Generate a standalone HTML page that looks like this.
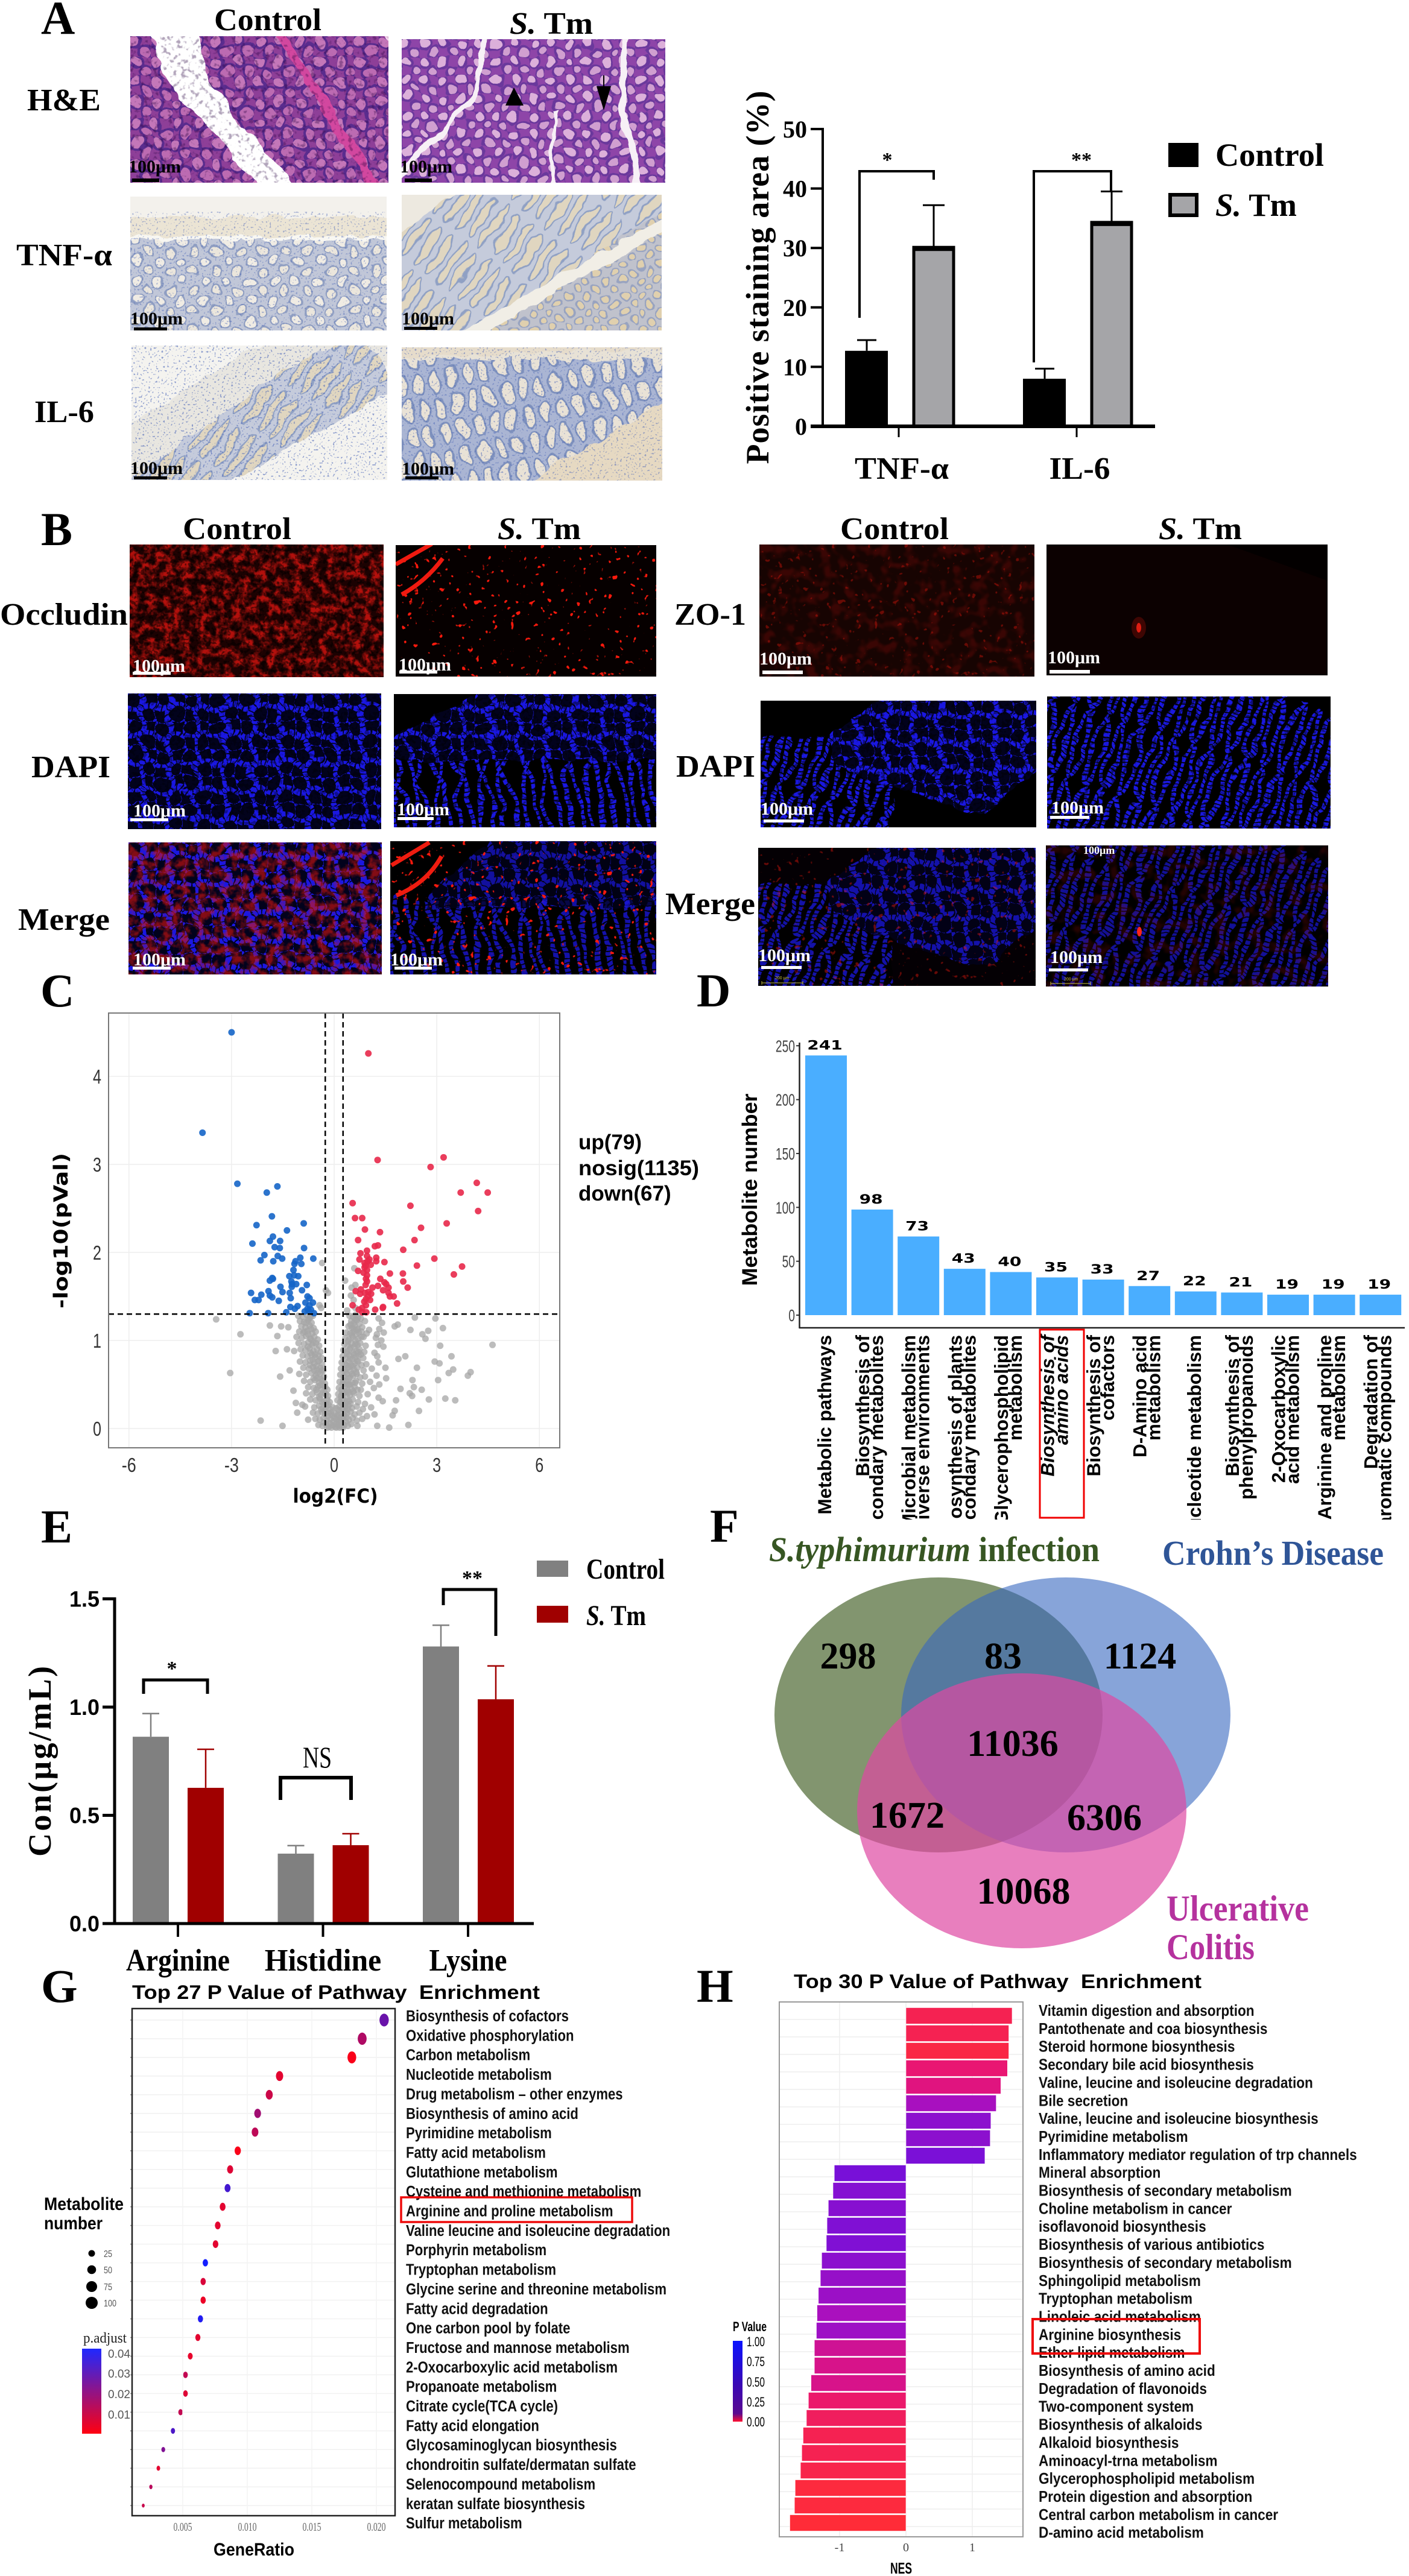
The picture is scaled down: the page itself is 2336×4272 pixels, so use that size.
<!DOCTYPE html>
<html lang="en">
<head>
<meta charset="utf-8">
<title>Multi-panel figure</title>
<style>
html,body{margin:0;padding:0;background:#fff}
svg#figure{display:block}
text{fill:#000}
.sb{font-family:"Liberation Serif",serif;font-weight:700}
.ab{font-family:"Liberation Sans",sans-serif;font-weight:700}
.ar{font-family:"Liberation Sans",sans-serif}
.db{font-family:"DejaVu Sans",sans-serif;font-weight:700}
.sr{font-family:"Liberation Serif",serif}
</style>
</head>
<body>
<svg id="figure" width="2336" height="4272" viewBox="0 0 2336 4272">
<defs>
<filter id="warp" color-interpolation-filters="sRGB"><feTurbulence type="fractalNoise" baseFrequency="0.025" numOctaves="3" seed="4" result="n"/><feDisplacementMap in="SourceGraphic" in2="n" scale="20" xChannelSelector="R" yChannelSelector="G"/></filter>
<filter id="speck-dark" color-interpolation-filters="sRGB" x="0" y="0" width="100%" height="100%"><feTurbulence type="fractalNoise" baseFrequency="0.13" numOctaves="2" seed="7"/><feColorMatrix values="0 0 0 0 0.15 0 0 0 0 0 0 0 0 0 0.25 6 0 0 0 -3.3"/></filter>
<filter id="speck-black" color-interpolation-filters="sRGB" x="0" y="0" width="100%" height="100%"><feTurbulence type="fractalNoise" baseFrequency="0.16" numOctaves="2" seed="11"/><feColorMatrix values="0 0 0 0 0 0 0 0 0 0 0 0 0 0 0 9 0 0 0 -4.6"/></filter>
<filter id="speck-red-soft" color-interpolation-filters="sRGB" x="0" y="0" width="100%" height="100%"><feTurbulence type="fractalNoise" baseFrequency="0.07" numOctaves="3" seed="3"/><feColorMatrix values="0 0 0 0 0.85 0 0 0 0 0.08 0 0 0 0 0.06 3.2 0 0 0 -1.25"/></filter>
<filter id="speck-red-fine" color-interpolation-filters="sRGB" x="0" y="0" width="100%" height="100%"><feTurbulence type="fractalNoise" baseFrequency="0.1" numOctaves="2" seed="9"/><feColorMatrix values="0 0 0 0 1 0 0 0 0 0.1 0 0 0 0 0.05 16 0 0 0 -11"/></filter>
<filter id="speck-red-faint" color-interpolation-filters="sRGB" x="0" y="0" width="100%" height="100%"><feTurbulence type="fractalNoise" baseFrequency="0.05" numOctaves="2" seed="5"/><feColorMatrix values="0 0 0 0 0.55 0 0 0 0 0.05 0 0 0 0 0.04 4 0 0 0 -1.9"/></filter>
<filter id="speck-nuclei" color-interpolation-filters="sRGB" x="0" y="0" width="100%" height="100%"><feTurbulence type="fractalNoise" baseFrequency="0.32" numOctaves="1" seed="2"/><feColorMatrix values="0 0 0 0 0.3 0 0 0 0 0.4 0 0 0 0 0.72 12 0 0 0 -7.4"/></filter>
<pattern id="p-he" patternUnits="userSpaceOnUse" width="34" height="34"><rect width="34" height="34" fill="#8e3f98"/><circle cx="8.5" cy="8.5" r="10.5" fill="#c477b9" stroke="#5a2c8e" stroke-width="4"/><circle cx="25.5" cy="25.5" r="10.5" fill="#bc6bb2" stroke="#5a2c8e" stroke-width="4"/></pattern>
<pattern id="p-he-pale" patternUnits="userSpaceOnUse" width="30" height="30"><rect width="30" height="30" fill="#8e45a8"/><circle cx="7.5" cy="7.5" r="9" fill="#dcb0da" stroke="#6a389c" stroke-width="3.5"/><circle cx="22.5" cy="22.5" r="8.5" fill="#d09fd0" stroke="#6a389c" stroke-width="3.5"/></pattern>
<pattern id="p-ihc" patternUnits="userSpaceOnUse" width="38" height="33"><rect width="38" height="33" fill="#c1c7d8"/><circle cx="9.5" cy="8.2" r="8.5" fill="#f0ece4" stroke="#8f9ec2" stroke-width="2.5"/><circle cx="28.5" cy="24.7" r="8.5" fill="#ebe6dc" stroke="#8f9ec2" stroke-width="2.5"/></pattern>
<pattern id="p-ihc-tan" patternUnits="userSpaceOnUse" width="30" height="27"><rect width="30" height="27" fill="#c0c2cc"/><circle cx="7.5" cy="6.8" r="6.8" fill="#e0d0ae" stroke="#98a3c0" stroke-width="2.5"/><circle cx="22.5" cy="20.2" r="6.8" fill="#e0d0ae" stroke="#98a3c0" stroke-width="2.5"/></pattern>
<pattern id="p-ihc-long" patternUnits="userSpaceOnUse" width="24" height="90" patternTransform="rotate(35)"><rect width="24" height="90" fill="#c5cbdb"/><ellipse cx="12" cy="45" rx="7.5" ry="40" fill="#e0d6c0" stroke="#8fa0c4" stroke-width="2.5"/></pattern>
<pattern id="p-ihc-blue" patternUnits="userSpaceOnUse" width="28" height="44" patternTransform="rotate(-12)"><rect width="28" height="44" fill="#aab5d3"/><ellipse cx="14" cy="22" rx="9.5" ry="18" fill="#e9e2d6" stroke="#7d90bd" stroke-width="3"/></pattern>
<pattern id="p-net" patternUnits="userSpaceOnUse" width="46" height="46"><rect width="46" height="46" fill="#02021c"/><circle cx="11.5" cy="11.5" r="15" fill="none" stroke="#1a17e2" stroke-width="8" stroke-dasharray="7 2"/><circle cx="34.5" cy="34.5" r="15" fill="none" stroke="#1a17e2" stroke-width="8" stroke-dasharray="7 2"/></pattern>
<pattern id="p-stripe" patternUnits="userSpaceOnUse" width="36" height="150" patternTransform="rotate(-8)"><rect width="36" height="150" fill="#000"/><ellipse cx="18" cy="75" rx="11" ry="72" fill="none" stroke="#1a17e2" stroke-width="7" stroke-dasharray="7 2"/></pattern>
<pattern id="p-stripe-b" patternUnits="userSpaceOnUse" width="30" height="120" patternTransform="rotate(18)"><rect width="30" height="120" fill="#000"/><ellipse cx="15" cy="60" rx="9" ry="56" fill="none" stroke="#1a18e0" stroke-width="7" stroke-dasharray="6 2"/></pattern>
<linearGradient id="g-padjust" x1="0" y1="0" x2="0" y2="1"><stop offset="0" stop-color="#1f28ff"/><stop offset="1" stop-color="#ff0010"/></linearGradient>
<linearGradient id="g-pvalue" x1="0" y1="0" x2="0" y2="1"><stop offset="0" stop-color="#0a12ff"/><stop offset=".55" stop-color="#3a08b4"/><stop offset=".9" stop-color="#5a0a90"/><stop offset="1" stop-color="#ff1030"/></linearGradient>
<clipPath id="clip-d-labels"><rect x="1320" y="2204" width="1016" height="316"/></clipPath>
</defs>
<rect width="2336" height="4272" fill="#fff"/>

<!-- PANEL LETTERS -->
<g class="sb" font-size="78">
<text x="68" y="56">A</text>
<text x="68" y="904">B</text>
<text x="67" y="1669">C</text>
<text x="1155" y="1669">D</text>
<text x="68" y="2558">E</text>
<text x="1177" y="2557">F</text>
<text x="68" y="3320">G</text>
<text x="1155" y="3320">H</text>
</g>

<!-- PANEL A IMAGES -->
<g class="sb" font-size="52">
<text x="355" y="50" textLength="178" lengthAdjust="spacingAndGlyphs">Control</text>
<text x="845" y="56" textLength="138" lengthAdjust="spacingAndGlyphs"><tspan font-style="italic">S.</tspan> Tm</text>
<text x="45" y="183" textLength="122" lengthAdjust="spacingAndGlyphs">H&amp;E</text>
<text x="27" y="440" textLength="159" lengthAdjust="spacingAndGlyphs">TNF-α</text>
<text x="57" y="700" textLength="99" lengthAdjust="spacingAndGlyphs">IL-6</text>
</g>

<svg x="216" y="60" width="428" height="243" viewBox="0 0 428 243">
<g filter="url(#warp)"><rect x="-40" y="-40" width="510" height="330" fill="url(#p-he)"/>
<polygon points="25,-30 105,-30 135,80 285,270 235,270 90,110 55,60" fill="#fff"/>
<line x1="238" y1="-20" x2="410" y2="260" stroke="#d2479f" stroke-width="15"/>
<polygon points="400,-30 470,-30 470,70" fill="#f8d8ee"/></g>
<rect width="428" height="243" filter="url(#speck-dark)" opacity=".35"/>
<text class="sb" font-size="30" x="-3" y="226">100μm</text>
<rect x="3" y="236" width="45" height="6" fill="#000"/>
</svg>
<svg x="666" y="65" width="437" height="238" viewBox="0 0 437 238">
<g filter="url(#warp)"><rect x="-40" y="-40" width="520" height="320" fill="url(#p-he-pale)"/>
<polyline points="145,-25 125,90 70,150 20,195 -15,245" fill="none" stroke="#f7f0f6" stroke-width="10"/>
<polyline points="375,-25 365,120 395,265" fill="none" stroke="#f7f0f6" stroke-width="12"/>
<line x1="258" y1="120" x2="245" y2="265" stroke="#f7f0f6" stroke-width="7"/></g>
<polygon points="186,80 172,110 202,110" fill="#000"/>
<polygon points="323,78 347,78 335,118" fill="#000"/>
<line x1="335" y1="60" x2="335" y2="80" stroke="#000" stroke-width="2"/>
<text class="sb" font-size="30" x="-3" y="221">100μm</text>
<rect x="5" y="231" width="45" height="6" fill="#000"/>
</svg>
<svg x="216" y="326" width="425" height="222" viewBox="0 0 425 222">
<rect width="425" height="222" fill="#f3f1ec"/>
<g filter="url(#warp)"><rect x="-40" y="72" width="510" height="200" fill="url(#p-ihc)"/>
<rect x="-40" y="34" width="510" height="32" fill="#ebe4d4"/><rect x="-40" y="66" width="510" height="6" fill="#f8f7f2"/></g>
<rect y="25" width="425" height="197" filter="url(#speck-nuclei)" opacity=".45"/>
<text class="sb" font-size="30" x="0" y="212">100μm</text>
<rect x="6" y="217" width="55" height="5" fill="#000"/>
</svg>
<svg x="666" y="323" width="431" height="225" viewBox="0 0 431 225">
<rect width="431" height="225" fill="#e6e2d8"/>
<g filter="url(#warp)"><rect x="-40" y="-40" width="510" height="300" fill="url(#p-ihc-tan)"/>
<polygon points="-40,-40 470,-40 470,0 80,260 -40,260" fill="url(#p-ihc-long)"/>
<line x1="70" y1="255" x2="450" y2="40" stroke="#f1eee6" stroke-width="20"/>
<polygon points="-40,-40 140,-40 -40,90" fill="#ede9e0"/></g>
<text class="sb" font-size="30" x="0" y="215">100μm</text>
<rect x="4" y="219" width="55" height="5" fill="#000"/>
</svg>
<svg x="218" y="573" width="424" height="223" viewBox="0 0 424 223">
<rect width="424" height="223" fill="#f4f3ef"/>
<g filter="url(#warp)"><polygon points="-40,150 260,-30 440,-30 440,20 50,260 -40,260" fill="#e8e6e0"/>
<polygon points="0,220 250,40 380,-20 440,70 100,260 -10,260" fill="url(#p-ihc-long)"/></g>
<rect width="424" height="223" filter="url(#speck-nuclei)" opacity=".6"/>
<text class="sb" font-size="30" x="-2" y="213">100μm</text>
<rect x="4" y="217" width="55" height="5" fill="#000"/>
</svg>
<svg x="666" y="576" width="432" height="221" viewBox="0 0 432 221">
<rect width="432" height="221" fill="#e8e2d6"/>
<g filter="url(#warp)"><rect x="-40" y="20" width="510" height="240" fill="url(#p-ihc-blue)"/>
<polygon points="-40,-40 470,-40 470,0 -40,20" fill="#e6dccb"/>
<polygon points="140,265 470,70 470,265" fill="#e6d9c2"/></g>
<rect width="432" height="221" filter="url(#speck-nuclei)" opacity=".5"/>
<text class="sb" font-size="30" x="0" y="211">100μm</text>
<rect x="6" y="214" width="55" height="5" fill="#000"/>
</svg>

<!-- PANEL A CHART -->
<g id="stain-chart"></g>
<g>
<path d="M1425 527V284H1548V298" fill="none" stroke="#000" stroke-width="4"/>
<path d="M1714 601V284H1842V318" fill="none" stroke="#000" stroke-width="4"/>
<text class="sb" font-size="34" x="1471" y="276" text-anchor="middle">*</text>
<text class="sb" font-size="34" x="1793" y="276" text-anchor="middle">**</text>
<text class="sb" font-size="54" transform="translate(1274,460) rotate(-90)" text-anchor="middle" textLength="619" lengthAdjust="spacing">Positive staining area (%)</text>
<rect x="1937" y="237" width="50" height="40" fill="#000"/>
<text class="sb" font-size="54" x="2015" y="275" textLength="180" lengthAdjust="spacingAndGlyphs">Control</text>
<rect x="1940" y="323" width="44" height="34" fill="#a5a5a8" stroke="#000" stroke-width="6"/>
<text class="sb" font-size="54" x="2015" y="358" textLength="135" lengthAdjust="spacingAndGlyphs"><tspan font-style="italic">S.</tspan> Tm</text>
</g>

<!-- PANEL B -->
<g class="sb" font-size="52">
<text x="393" y="894" text-anchor="middle" textLength="180" lengthAdjust="spacingAndGlyphs">Control</text>
<text x="894" y="894" text-anchor="middle" textLength="138" lengthAdjust="spacingAndGlyphs"><tspan font-style="italic">S.</tspan> Tm</text>
<text x="1483" y="894" text-anchor="middle" textLength="180" lengthAdjust="spacingAndGlyphs">Control</text>
<text x="1990" y="894" text-anchor="middle" textLength="138" lengthAdjust="spacingAndGlyphs"><tspan font-style="italic">S.</tspan> Tm</text>
<text x="0" y="1036" textLength="212" lengthAdjust="spacingAndGlyphs">Occludin</text>
<text x="1118" y="1036" textLength="119" lengthAdjust="spacingAndGlyphs">ZO-1</text>
<text x="52" y="1289" textLength="131" lengthAdjust="spacingAndGlyphs">DAPI</text>
<text x="1121" y="1288" textLength="131" lengthAdjust="spacingAndGlyphs">DAPI</text>
<text x="30" y="1542" textLength="152" lengthAdjust="spacingAndGlyphs">Merge</text>
<text x="1103" y="1516" textLength="149" lengthAdjust="spacingAndGlyphs">Merge</text>
</g>

<svg x="215" y="903" width="421" height="220" viewBox="0 0 421 220">
<rect width="421" height="220" fill="#1c0202"/>
<rect width="421" height="220" filter="url(#speck-red-soft)" opacity=".8"/>
<rect width="421" height="220" filter="url(#speck-black)" opacity=".5"/>
<text class="sb" font-size="30" x="5" y="211" style="fill:#fff">100μm</text>
<rect x="5" y="211" width="63" height="5" fill="#fff"/>
</svg>
<svg x="656" y="904" width="432" height="218" viewBox="0 0 432 218">
<rect width="432" height="218" fill="#060000"/>
<rect width="432" height="218" filter="url(#speck-red-fine)"/>
<path d="M0 32 L60 -2 M10 82 Q50 60 78 22" fill="none" stroke="#f01a10" stroke-width="7"/>
<text class="sb" font-size="30" x="5" y="208" style="fill:#fff">100μm</text>
<rect x="6" y="208" width="63" height="5" fill="#fff"/>
</svg>
<svg x="1259" y="903" width="456" height="219" viewBox="0 0 456 219">
<rect width="456" height="219" fill="#170402"/>
<rect width="456" height="219" filter="url(#speck-red-faint)" opacity=".3"/>
<rect width="456" height="219" filter="url(#speck-red-fine)" opacity=".35"/>
<text class="sb" font-size="30" x="0" y="199" style="fill:#fff">100μm</text>
<rect x="5" y="209" width="67" height="6" fill="#fff"/>
</svg>
<svg x="1735" y="903" width="466" height="217" viewBox="0 0 466 217">
<rect width="466" height="217" fill="#0c0101"/>
<polygon points="300,0 466,0 466,60" fill="#030000"/>
<ellipse cx="153" cy="138" rx="4" ry="8" fill="#ff2418"/>
<ellipse cx="153" cy="138" rx="12" ry="18" fill="#a01008" opacity=".35"/>
<text class="sb" font-size="30" x="2" y="197" style="fill:#fff">100μm</text>
<rect x="5" y="208" width="67" height="6" fill="#fff"/>
</svg>
<svg x="212" y="1150" width="420" height="225" viewBox="0 0 420 225">
<g filter="url(#warp)"><rect x="-40" y="-40" width="500" height="310" fill="url(#p-net)"/></g>
<rect width="420" height="225" filter="url(#speck-black)" opacity=".35"/>
<text class="sb" font-size="30" x="9" y="204" style="fill:#fff">100μm</text>
<rect x="4" y="207" width="63" height="5" fill="#fff"/>
</svg>
<svg x="653" y="1151" width="435" height="221" viewBox="0 0 435 221">
<rect width="435" height="221" fill="#000"/>
<g filter="url(#warp)"><rect x="-40" y="90" width="520" height="170" fill="url(#p-stripe)"/>
<polygon points="-40,90 200,-30 480,-30 480,110 -40,110" fill="url(#p-net)"/></g>
<rect width="435" height="221" filter="url(#speck-black)" opacity=".45"/>
<text class="sb" font-size="30" x="5" y="201" style="fill:#fff">100μm</text>
<rect x="6" y="204" width="60" height="5" fill="#fff"/>
</svg>
<svg x="1261" y="1162" width="457" height="210" viewBox="0 0 457 210">
<rect width="457" height="210" fill="#000"/>
<g filter="url(#warp)"><rect x="-40" y="60" width="260" height="190" fill="url(#p-stripe-b)"/>
<polygon points="110,60 240,-30 480,-30 480,100 370,190 240,150 130,110" fill="url(#p-net)"/></g>
<rect width="457" height="210" filter="url(#speck-black)" opacity=".45"/>
<text class="sb" font-size="30" x="0" y="189" style="fill:#fff">100μm</text>
<rect x="5" y="197" width="67" height="5" fill="#fff"/>
</svg>
<svg x="1736" y="1155" width="470" height="219" viewBox="0 0 470 219">
<rect width="470" height="219" fill="#000"/>
<g filter="url(#warp)"><polygon points="-40,-30 360,-30 500,50 500,260 -40,260" fill="url(#p-stripe-b)"/></g>
<rect width="470" height="219" filter="url(#speck-black)" opacity=".45"/>
<text class="sb" font-size="30" x="7" y="194" style="fill:#fff">100μm</text>
<rect x="5" y="198" width="65" height="5" fill="#fff"/>
</svg>
<svg x="213" y="1397" width="420" height="219" viewBox="0 0 420 219">
<g filter="url(#warp)"><rect x="-40" y="-40" width="500" height="300" fill="url(#p-net)"/></g>
<rect width="420" height="219" filter="url(#speck-red-soft)" opacity=".6"/>
<text class="sb" font-size="30" x="8" y="204" style="fill:#fff">100μm</text>
<rect x="7" y="206" width="63" height="5" fill="#fff"/>
</svg>
<svg x="647" y="1395" width="441" height="221" viewBox="0 0 441 221">
<rect width="441" height="221" fill="#000"/>
<g filter="url(#warp)"><rect x="-40" y="95" width="520" height="170" fill="url(#p-stripe)" opacity=".75"/>
<polygon points="60,90 200,-30 480,-30 480,110 60,110" fill="url(#p-net)" opacity=".7"/></g>
<rect width="441" height="221" filter="url(#speck-red-fine)"/>
<path d="M2 40 L65 2 M10 90 Q60 70 85 25" fill="none" stroke="#ef1c10" stroke-width="7"/>
<text class="sb" font-size="30" x="0" y="206" style="fill:#fff">100μm</text>
<rect x="7" y="208" width="62" height="5" fill="#fff"/>
</svg>
<svg x="1257" y="1406" width="460" height="229" viewBox="0 0 460 229">
<rect width="460" height="229" fill="#040004"/>
<g filter="url(#warp)" opacity=".75"><rect x="-40" y="60" width="260" height="210" fill="url(#p-stripe-b)"/>
<polygon points="110,60 240,-30 490,-30 490,110 380,200 240,160 130,110" fill="url(#p-net)"/></g>
<rect width="460" height="229" filter="url(#speck-red-fine)" opacity=".4"/>
<text class="sb" font-size="30" x="0" y="188" style="fill:#fff">100μm</text>
<rect x="5" y="196" width="67" height="5" fill="#fff"/>
<text class="ar" font-size="7" x="28" y="218" style="fill:#c8c040">200 μm</text>
<path d="M6 224H74M6 221V227M74 221V227" stroke="#c8c040" stroke-width="1" fill="none"/>
</svg>
<svg x="1734" y="1402" width="468" height="234" viewBox="0 0 468 234">
<rect width="468" height="234" fill="#030002"/>
<g filter="url(#warp)" opacity=".68"><polygon points="-40,-30 360,-30 500,50 500,270 -40,270" fill="url(#p-stripe-b)"/></g>
<rect width="468" height="234" filter="url(#speck-red-faint)" opacity=".25"/>
<ellipse cx="155" cy="143" rx="4" ry="8" fill="#ff2418"/>
<text class="sb" font-size="18" x="62" y="14" style="fill:#fff">100μm</text>
<text class="sb" font-size="30" x="7" y="195" style="fill:#fff">100μm</text>
<rect x="5" y="204" width="65" height="5" fill="#fff"/>
<path d="M8 229H74M8 226V232M74 226V232" stroke="#c8c040" stroke-width="1" fill="none"/>
<text class="ar" font-size="7" x="30" y="224" style="fill:#c8c040">200 μm</text>
</svg>

<!-- PANEL C -->
<g id="volcano-chart"></g>
<g>
<text class="db" font-size="32" transform="translate(112,2041) rotate(-90)" text-anchor="middle" textLength="258" lengthAdjust="spacingAndGlyphs">-log10(pVal)</text>
<text class="db" font-size="32" x="556" y="2492" text-anchor="middle" textLength="141" lengthAdjust="spacingAndGlyphs">log2(FC)</text>
<text class="ab" font-size="35" x="959" y="1906">up(79)</text>
<text class="ab" font-size="35" x="959" y="1949" textLength="200" lengthAdjust="spacingAndGlyphs">nosig(1135)</text>
<text class="ab" font-size="35" x="959" y="1991">down(67)</text>
</g>

<!-- PANEL D -->
<g id="pathway-chart"></g>
<text class="ab" font-size="35" transform="translate(1255,1973) rotate(-90)" text-anchor="middle" textLength="319" lengthAdjust="spacingAndGlyphs">Metabolite number</text>
<rect x="1724" y="2205" width="73" height="312" fill="none" stroke="#f00000" stroke-width="3"/>

<!-- PANEL E -->
<g id="amino-chart"></g>
<g>
<path d="M238 2809V2786H344V2809" fill="none" stroke="#000" stroke-width="5"/>
<path d="M465 2985V2948H582V2985" fill="none" stroke="#000" stroke-width="6"/>
<path d="M735 2662V2636H822V2713" fill="none" stroke="#000" stroke-width="5"/>
<text class="sb" font-size="34" x="285" y="2778" text-anchor="middle">*</text>
<text class="sr" font-size="50" x="526" y="2931" text-anchor="middle" textLength="48" lengthAdjust="spacingAndGlyphs">NS</text>
<text class="sb" font-size="34" x="783" y="2628" text-anchor="middle">**</text>
<text class="sb" font-size="54" transform="translate(84,2921) rotate(-90)" text-anchor="middle" textLength="316" lengthAdjust="spacing">Con(μg/mL)</text>
<rect x="890" y="2588" width="52" height="27" fill="#808080"/>
<text class="sb" font-size="48" x="972" y="2618" textLength="130" lengthAdjust="spacingAndGlyphs">Control</text>
<rect x="890" y="2663" width="52" height="28" fill="#a00000"/>
<text class="sb" font-size="48" x="972" y="2695" textLength="99" lengthAdjust="spacingAndGlyphs"><tspan font-style="italic">S.</tspan> Tm</text>
</g>

<!-- PANEL F -->
<g>
<ellipse cx="1556" cy="2844" rx="272" ry="228" fill="#82956f"/>
<ellipse cx="1767" cy="2844" rx="273" ry="228" fill="rgb(55,103,191)" fill-opacity=".6"/>
<ellipse cx="1694" cy="3003" rx="273" ry="228" fill="rgb(222,72,162)" fill-opacity=".7"/>
<g class="sb" font-size="62" text-anchor="middle">
<text x="1406" y="2767">298</text>
<text x="1663" y="2767">83</text>
<text x="1890" y="2767">1124</text>
<text x="1679" y="2912">11036</text>
<text x="1504" y="3031">1672</text>
<text x="1831" y="3035">6306</text>
<text x="1697" y="3157">10068</text>
</g>
<text class="sb" font-size="58" x="1275" y="2589" textLength="548" lengthAdjust="spacingAndGlyphs" style="fill:#375623"><tspan font-style="italic" style="fill:#375623">S.typhimurium</tspan> infection</text>
<text class="sb" font-size="58" x="1927" y="2595" textLength="367" lengthAdjust="spacingAndGlyphs" style="fill:#2f5597">Crohn’s Disease</text>
<text class="sb" font-size="60" x="1934" y="3185" textLength="236" lengthAdjust="spacingAndGlyphs" style="fill:#b5329e">Ulcerative</text>
<text class="sb" font-size="60" x="1934" y="3249" textLength="146" lengthAdjust="spacingAndGlyphs" style="fill:#b5329e">Colitis</text>
</g>

<!-- PANEL G -->
<text class="ab" font-size="32" x="219" y="3315" textLength="676" lengthAdjust="spacingAndGlyphs">Top 27 P Value of Pathway&#160; Enrichment</text>
<g id="dot-chart"></g>
<g>
<text class="ab" font-size="30" x="73" y="3665" textLength="132" lengthAdjust="spacingAndGlyphs">Metabolite</text>
<text class="ab" font-size="30" x="73" y="3697" textLength="97" lengthAdjust="spacingAndGlyphs">number</text>
<circle cx="152" cy="3737" r="5.5"/>
<circle cx="152" cy="3764" r="7.3"/>
<circle cx="152" cy="3792" r="9"/>
<circle cx="152" cy="3819" r="10"/>
<g class="ar" font-size="16" style="fill:#555">
<text x="172" y="3743" style="fill:#555" textLength="14" lengthAdjust="spacingAndGlyphs">25</text>
<text x="172" y="3770" style="fill:#555" textLength="14" lengthAdjust="spacingAndGlyphs">50</text>
<text x="172" y="3798" style="fill:#555" textLength="14" lengthAdjust="spacingAndGlyphs">75</text>
<text x="172" y="3825" style="fill:#555" textLength="21" lengthAdjust="spacingAndGlyphs">100</text>
</g>
<text class="sr" font-size="24" x="138" y="3885" textLength="72" lengthAdjust="spacingAndGlyphs" style="fill:#222">p.adjust</text>
<rect x="136" y="3895" width="32" height="141" fill="url(#g-padjust)"/>
<g class="ar" font-size="19">
<text x="179" y="3910" style="fill:#555">0.04</text>
<text x="179" y="3943" style="fill:#555">0.03</text>
<text x="179" y="3977" style="fill:#555">0.02</text>
<text x="179" y="4011" style="fill:#555">0.01</text>
</g>
<text class="ab" font-size="30" x="354" y="4238" textLength="134" lengthAdjust="spacingAndGlyphs">GeneRatio</text>
<rect x="665" y="3644" width="383" height="41" fill="none" stroke="#ee0a0a" stroke-width="3.5"/>
</g>

<!-- PANEL H -->
<text class="ab" font-size="32" x="1316" y="3297" textLength="676" lengthAdjust="spacingAndGlyphs">Top 30 P Value of Pathway&#160; Enrichment</text>
<g id="nes-chart"></g>
<g>
<text class="ab" font-size="22" x="1215" y="3866" textLength="56" lengthAdjust="spacingAndGlyphs">P Value</text>
<rect x="1215" y="3882" width="16" height="134" fill="url(#g-pvalue)"/>
<g class="ar" font-size="22">
<text x="1238" y="3891" textLength="30" lengthAdjust="spacingAndGlyphs">1.00</text>
<text x="1238" y="3924" textLength="30" lengthAdjust="spacingAndGlyphs">0.75</text>
<text x="1238" y="3958" textLength="30" lengthAdjust="spacingAndGlyphs">0.50</text>
<text x="1238" y="3991" textLength="30" lengthAdjust="spacingAndGlyphs">0.25</text>
<text x="1238" y="4024" textLength="30" lengthAdjust="spacingAndGlyphs">0.00</text>
</g>
<text class="ab" font-size="26" x="1476" y="4268" textLength="36" lengthAdjust="spacingAndGlyphs">NES</text>
</g>
</svg>

<script>
// ---------- Panel A data ----------
const stainCategories = ['TNF-α', 'IL-6'];
const stainControl = [12.7, 8.0];
const stainTm = [30.3, 34.5];
const stainControlSd = [1.8, 1.7];
const stainTmSd = [6.9, 5.0];
const stainTicks = [0, 10, 20, 30, 40, 50];

// ---------- Panel C data: [log2FC, -log10 p] ----------
const volcanoXTicks = [-6, -3, 0, 3, 6];
const volcanoYTicks = [0, 1, 2, 3, 4];
const downPoints = [[-3.00,4.50],[-3.85,3.36],[-2.83,2.78],[-1.66,2.75],[-1.97,2.68],[-1.82,2.41],[-0.89,2.33],[-2.27,2.31],[-1.38,2.25],[-1.79,2.18],[-1.88,2.13],[-1.58,2.13],[-2.39,2.10],[-1.74,2.06],[-1.59,2.05],[-0.88,2.05],[-2.04,1.97],[-1.65,1.96],[-1.52,1.93],[-0.99,1.94],[-2.15,1.91],[-1.78,1.90],[-0.61,1.93],[-1.13,1.90],[-1.16,1.87],[-0.96,1.87],[-1.19,1.80],[-1.31,1.73],[-1.17,1.74],[-1.05,1.73],[-1.81,1.71],[-1.88,1.68],[-1.23,1.64],[-1.11,1.64],[-0.80,1.63],[-1.57,1.61],[-1.24,1.61],[-0.94,1.57],[-2.43,1.54],[-1.92,1.56],[-1.30,1.54],[-1.51,1.55],[-2.13,1.52],[-1.88,1.51],[-1.81,1.49],[-1.27,1.48],[-0.78,1.50],[-0.72,1.48],[-2.32,1.46],[-2.21,1.46],[-1.62,1.45],[-0.62,1.43],[-0.84,1.43],[-0.72,1.40],[-1.28,1.38],[-1.07,1.39],[-0.78,1.36],[-2.47,1.31],[-1.93,1.31],[-1.40,1.32],[-0.86,1.33],[-0.59,1.31],[-1.79,1.70],[-1.25,1.67],[-0.75,1.34],[-1.15,1.36],[-0.68,1.35]];
const upPoints = [[1.00,4.26],[1.27,3.05],[3.20,3.08],[2.82,2.97],[4.17,2.79],[3.70,2.68],[4.49,2.68],[0.54,2.56],[2.23,2.53],[4.21,2.47],[0.61,2.39],[0.82,2.39],[3.29,2.33],[2.54,2.28],[0.90,2.26],[1.34,2.23],[0.70,2.14],[2.35,2.14],[1.19,2.07],[1.28,2.08],[2.02,2.03],[0.96,2.02],[0.77,1.99],[1.23,1.94],[0.74,1.92],[2.93,1.93],[0.96,1.96],[1.03,1.92],[1.23,1.90],[1.47,1.89],[0.89,1.88],[3.74,1.84],[2.42,1.85],[1.07,1.86],[0.89,1.83],[0.70,1.79],[0.96,1.80],[2.01,1.76],[1.63,1.76],[3.50,1.75],[0.96,1.74],[0.93,1.70],[2.02,1.67],[1.47,1.66],[0.96,1.67],[1.52,1.64],[1.28,1.62],[0.92,1.63],[2.15,1.60],[1.59,1.60],[0.63,1.56],[1.43,1.57],[1.00,1.55],[1.59,1.54],[0.76,1.53],[0.90,1.54],[1.08,1.53],[1.63,1.50],[1.74,1.50],[0.99,1.50],[0.93,1.47],[1.84,1.42],[0.54,1.40],[0.93,1.40],[1.42,1.37],[0.82,1.37],[1.20,1.35],[0.82,1.32],[0.94,1.32],[1.43,1.38],[0.88,1.44],[1.05,1.46],[0.78,1.58],[0.86,1.77],[0.92,1.85],[1.12,1.60],[1.35,1.70],[0.72,1.35],[0.98,1.90]];
const nosigPoints = [[-3.45,1.24],[-2.74,1.07],[-3.04,0.63],[-2.15,0.09],[-1.51,0.03],[-1.58,0.59],[-1.71,0.88],[-1.88,1.17],[-1.55,1.16],[-1.66,1.05],[-1.34,1.15],[-1.38,0.90],[-1.17,0.88],[-1.30,0.66],[-1.19,0.43],[-1.12,0.29],[-0.93,0.27],[-1.08,0.18],[-0.76,0.10],[4.63,0.95],[2.96,1.25],[2.36,1.26],[3.18,1.14],[2.75,1.11],[2.23,1.12],[1.86,1.18],[1.77,1.16],[2.58,1.07],[2.67,1.02],[3.10,0.94],[3.43,0.82],[2.08,0.82],[1.88,0.79],[2.94,0.76],[3.08,0.74],[2.42,0.69],[3.48,0.67],[3.35,0.63],[3.99,0.64],[3.91,0.60],[3.04,0.55],[2.29,0.55],[2.33,0.47],[1.94,0.45],[2.56,0.44],[2.21,0.40],[2.28,0.37],[2.77,0.33],[3.25,0.34],[3.54,0.32],[1.81,0.32],[2.48,0.20],[1.77,0.20],[1.71,0.15],[2.17,0.04],[1.61,0.01],[1.26,0.03],[-0.35,1.88],[0.59,1.82],[0.32,1.68],[-0.24,1.57],[-0.18,1.54],[0.62,1.63],[0.51,1.60],[0.49,1.51],[0.38,1.34],[-0.43,1.40],[-0.38,1.37],[0.62,1.37],[0.57,1.46],
[-1.05,1.28],[-0.92,1.27],[-0.80,1.29],[-0.70,1.26],[-0.62,1.28],[0.45,1.28],[0.55,1.27],[0.62,1.29],[0.70,1.26],[0.78,1.25],[-1.00,1.22],[-0.88,1.21],[-0.76,1.23],[-0.66,1.20],[0.50,1.22],[0.58,1.20],[0.66,1.23],[0.74,1.19],[0.90,1.22],[1.30,1.25],[1.40,1.20],[-0.96,1.16],[-0.84,1.15],[-0.72,1.17],[-0.60,1.14],[0.42,1.16],[0.52,1.14],[0.60,1.17],[0.69,1.13],[0.82,1.15],[1.02,1.12],[1.32,1.13],[-1.02,1.10],[-0.90,1.09],[-0.78,1.11],[-0.64,1.08],[-0.54,1.10],[0.36,1.09],[0.47,1.08],[0.56,1.10],[0.64,1.07],[0.72,1.09],[0.95,1.08],[1.25,1.07],[1.45,1.09],[-1.10,1.04],[-0.95,1.03],[-0.82,1.05],[-0.70,1.02],[-0.58,1.04],[-0.48,1.01],[0.33,1.03],[0.43,1.01],[0.54,1.04],[0.62,1.00],[0.70,1.02],[0.80,1.04],[1.22,1.03],[1.38,1.00],[-1.04,0.97],[-0.88,0.96],[-0.75,0.98],[-0.64,0.95],[-0.53,0.97],[-0.44,0.94],[0.30,0.96],[0.40,0.94],[0.50,0.97],[0.59,0.93],[0.68,0.95],[0.76,0.97],[0.92,0.94],[1.28,0.95],[1.44,0.93],[-0.98,0.90],[-0.84,0.89],[-0.72,0.91],[-0.60,0.88],[-0.50,0.90],[-0.40,0.87],[0.27,0.89],[0.37,0.87],[0.46,0.90],[0.56,0.86],[0.65,0.88],[0.74,0.90],[0.88,0.87],[1.18,0.86],[-0.92,0.83],[-0.78,0.82],[-0.66,0.84],[-0.55,0.81],[-0.46,0.83],[-0.37,0.80],[0.25,0.82],[0.34,0.80],[0.44,0.83],[0.53,0.79],[0.62,0.81],[0.72,0.83],[0.85,0.80],[1.26,0.82],[-1.00,0.76],[-0.84,0.75],[-0.70,0.77],[-0.58,0.74],[-0.47,0.76],[-0.35,0.73],[0.22,0.75],[0.32,0.73],[0.42,0.76],[0.50,0.72],[0.60,0.74],[0.70,0.76],[0.94,0.73],[1.30,0.75],[-0.90,0.69],[-0.74,0.68],[-0.62,0.70],[-0.50,0.67],[-0.40,0.69],[-0.32,0.66],[0.20,0.68],[0.30,0.66],[0.40,0.69],[0.48,0.65],[0.58,0.67],[0.68,0.69],[0.86,0.66],[1.10,0.68],[1.50,0.69],[-1.02,0.62],[-0.82,0.61],[-0.66,0.63],[-0.54,0.60],[-0.42,0.62],[-0.30,0.59],[0.18,0.61],[0.28,0.59],[0.37,0.62],[0.46,0.58],[0.56,0.60],[0.66,0.62],[0.90,0.59],[1.24,0.60],[1.52,0.57],[-0.88,0.54],[-0.70,0.53],[-0.56,0.55],[-0.44,0.52],[-0.34,0.54],[-0.27,0.51],[0.16,0.53],[0.25,0.51],[0.34,0.54],[0.43,0.50],[0.53,0.52],[0.64,0.54],[0.82,0.51],[1.05,0.53],[1.32,0.50],[-0.76,0.47],[-0.60,0.46],[-0.47,0.48],[-0.36,0.45],[-0.26,0.47],[-0.20,0.44],[0.14,0.46],[0.22,0.44],[0.31,0.47],[0.40,0.43],[0.50,0.45],[0.60,0.47],[0.78,0.44],[1.16,0.46],[-0.82,0.40],[-0.64,0.39],[-0.50,0.41],[-0.38,0.38],[-0.27,0.40],[-0.18,0.37],[0.12,0.39],[0.20,0.37],[0.28,0.40],[0.37,0.36],[0.46,0.38],[0.58,0.40],[0.74,0.37],[0.98,0.39],[1.30,0.35],[-0.70,0.33],[-0.54,0.32],[-0.42,0.34],[-0.30,0.31],[-0.20,0.33],[-0.13,0.30],[0.10,0.32],[0.18,0.30],[0.26,0.33],[0.34,0.29],[0.44,0.31],[0.54,0.33],[0.70,0.30],[0.90,0.28],[1.42,0.31],[-0.85,0.25],[-0.58,0.24],[-0.44,0.26],[-0.32,0.23],[-0.22,0.25],[-0.12,0.22],[-0.04,0.24],[0.06,0.23],[0.15,0.25],[0.24,0.22],[0.32,0.24],[0.42,0.26],[0.52,0.23],[0.66,0.25],[0.84,0.22],[1.08,0.24],[-0.62,0.18],[-0.48,0.17],[-0.36,0.19],[-0.26,0.16],[-0.16,0.18],[-0.07,0.15],[0.02,0.17],[0.11,0.16],[0.20,0.18],[0.29,0.15],[0.38,0.17],[0.48,0.19],[0.60,0.16],[0.74,0.18],[0.96,0.14],[1.18,0.16],[-0.55,0.11],[-0.42,0.10],[-0.31,0.12],[-0.21,0.09],[-0.11,0.11],[-0.02,0.08],[0.07,0.10],[0.16,0.09],[0.25,0.11],[0.34,0.08],[0.43,0.10],[0.54,0.12],[0.66,0.09],[0.82,0.11],[-0.46,0.04],[-0.34,0.03],[-0.24,0.05],[-0.15,0.02],[-0.06,0.04],[0.03,0.02],[0.12,0.04],[0.21,0.02],[0.30,0.04],[0.40,0.03],[0.50,0.05],[0.68,0.03],[-0.20,0.01],[-0.08,0.01],[0.06,0.01],[0.16,0.01],[0.26,0.01],
[-0.74,1.25],[-0.68,1.13],[-0.82,1.20],[-0.86,1.10],[-0.76,1.07],[-0.67,1.01],[-0.77,0.93],[-0.69,0.86],[-0.61,0.97],[-0.56,0.84],[-0.63,0.78],[-0.71,0.72],[-0.52,0.71],[-0.44,0.77],[-0.58,0.66],[-0.48,0.63],[-0.37,0.66],[-0.60,0.57],[-0.49,0.57],[-0.39,0.56],[-0.31,0.49],[-0.42,0.49],[-0.52,0.44],[-0.33,0.41],[-0.24,0.39],[-0.44,0.36],[-0.35,0.30],[-0.25,0.28],[-0.17,0.27],[-0.38,0.22],[-0.28,0.20],[-0.19,0.14],[-0.09,0.18],[-0.30,0.07],[-0.13,0.06],[0.00,0.12],[0.05,0.05],[0.09,0.14],[0.14,0.07],[0.18,0.12],[0.24,0.06],[0.27,0.14],[0.36,0.13],[0.33,0.20],[0.23,0.28],[0.13,0.21],[0.21,0.34],[0.30,0.26],[0.40,0.22],[0.38,0.31],[0.48,0.28],[0.32,0.42],[0.24,0.40],[0.42,0.41],[0.36,0.50],[0.27,0.55],[0.46,0.50],[0.56,0.42],[0.42,0.57],[0.33,0.64],[0.52,0.62],[0.62,0.52],[0.44,0.70],[0.36,0.72],[0.55,0.71],[0.65,0.64],[0.46,0.79],[0.38,0.85],[0.58,0.84],[0.67,0.77],[0.48,0.92],[0.41,0.99],[0.62,0.96],[0.71,0.87],[0.52,1.06],[0.66,1.12],[0.58,1.13],[0.80,1.10],[0.48,1.18],[0.62,1.24],[0.86,1.04],[0.78,0.84],[0.80,0.72],[0.76,0.58],[0.68,0.44]];

// ---------- Panel D data ----------
const pathwayValues = [241, 98, 73, 43, 40, 35, 33, 27, 22, 21, 19, 19, 19];
const pathwayTicks = [0, 50, 100, 150, 200, 250];
const pathwayLabels = [['Metabolic pathways'],['Biosynthesis of','secondary metabolites'],['Microbial metabolism','diverse environments'],['Biosynthesis of plants','secondary metabolites'],['Glycerophospholipid','metabolism'],['Biosynthesis of','amino acids'],['Biosynthesis of','cofactors'],['D-Amino acid','metabolism'],['Nucleotide metabolism'],['Biosynthesis of','phenylpropanoids'],['2-Oxocarboxylic','acid metabolism'],['Arginine and proline','metabolism'],['Degradation of','aromatic compounds']];
const highlightedPathway = 5;

// ---------- Panel E data ----------
const aminoCategories = ['Arginine', 'Histidine', 'Lysine'];
const aminoControl = [0.863, 0.323, 1.28];
const aminoTm = [0.627, 0.362, 1.036];
const aminoControlSd = [0.107, 0.037, 0.098];
const aminoTmSd = [0.178, 0.053, 0.154];
const aminoTicks = [0, 0.5, 1.0, 1.5];

// ---------- Panel G data ----------
const dotPathways = ['Biosynthesis of cofactors','Oxidative phosphorylation','Carbon metabolism','Nucleotide metabolism','Drug metabolism – other enzymes','Biosynthesis of amino acid','Pyrimidine metabolism','Fatty acid metabolism','Glutathione metabolism','Cysteine and methionine metabolism','Arginine and proline metabolism','Valine leucine and isoleucine degradation','Porphyrin metabolism','Tryptophan metabolism','Glycine serine and threonine metabolism','Fatty acid degradation','One carbon pool by folate','Fructose and mannose metabolism','2-Oxocarboxylic acid metabolism','Propanoate metabolism','Citrate cycle(TCA cycle)','Fatty acid elongation','Glycosaminoglycan biosynthesis','chondroitin sulfate/dermatan sulfate','Selenocompound metabolism','keratan sulfate biosynthesis','Sulfur metabolism'];
const dotGeneRatio = [0.0206,0.0189,0.0181,0.0125,0.0117,0.0108,0.0106,0.00926,0.00867,0.00847,0.00809,0.00771,0.00754,0.00675,0.00658,0.00658,0.00637,0.00617,0.00558,0.00521,0.00521,0.00483,0.00424,0.00349,0.00311,0.00253,0.00194];
const dotPAdjust = [0.032,0.017,0.001,0.006,0.011,0.020,0.014,0.001,0.007,0.040,0.006,0.006,0.006,0.050,0.008,0.004,0.047,0.006,0.005,0.013,0.007,0.013,0.038,0.027,0.006,0.015,0.012];
const dotXTicks = [0.005, 0.010, 0.015, 0.020];

// ---------- Panel H data ----------
const nesPathways = ['Vitamin digestion and absorption','Pantothenate and coa biosynthesis','Steroid hormone biosynthesis','Secondary bile acid biosynthesis','Valine, leucine and isoleucine degradation','Bile secretion','Valine, leucine and isoleucine biosynthesis','Pyrimidine metabolism','Inflammatory mediator regulation of trp channels','Mineral absorption','Biosynthesis of secondary metabolism','Choline metabolism in cancer','isoflavonoid biosynthesis','Biosynthesis of various antibiotics','Biosynthesis of secondary metabolism','Sphingolipid metabolism','Tryptophan metabolism','Linoleic acid metabolism','Arginine biosynthesis','Ether lipid metabolism','Biosynthesis of amino acid','Degradation of flavonoids','Two-component system','Biosynthesis of alkaloids','Alkaloid biosynthesis','Aminoacyl-trna metabolism','Glycerophospholipid metabolism','Protein digestion and absorption','Central carbon metabolism in cancer','D-amino acid metabolism'];
const nesValues = [1.60,1.55,1.55,1.53,1.43,1.36,1.28,1.27,1.19,-1.08,-1.10,-1.17,-1.19,-1.20,-1.27,-1.29,-1.32,-1.34,-1.35,-1.38,-1.38,-1.43,-1.47,-1.50,-1.55,-1.57,-1.59,-1.67,-1.68,-1.75];
const nesPValues = [0.04,0.04,0.02,0.09,0.12,0.31,0.42,0.42,0.49,0.50,0.45,0.44,0.47,0.47,0.42,0.38,0.36,0.30,0.35,0.18,0.15,0.15,0.08,0.06,0.04,0.04,0.03,0.01,0.01,0.00];
const nesTicks = [-1, 0, 1];

const SVG_NS = document.getElementById('figure').namespaceURI;
function add(parent, tag, attrs, text) {
  const e = document.createElementNS(SVG_NS, tag);
  for (const k in attrs) e.setAttribute(k, attrs[k]);
  if (text !== undefined) e.textContent = text;
  parent.appendChild(e);
  return e;
}

// ---------- Panel A ----------
(function () {
  const g = document.getElementById('stain-chart');
  const y = v => 707 - v * 9.86;
  const x = i => 1490 + i * 295;
  stainTicks.forEach(t => {
    const tick = add(g, 'line', {x1: 1344, x2: 1364, y1: y(t), y2: y(t), stroke: '#000', 'stroke-width': 4});
    
    
    const lab = add(g, 'text', {x: 1338, y: y(t) + 14, 'text-anchor': 'end', class: 'sb', 'font-size': 40, textLength: t ? 40 : 20, lengthAdjust: 'spacingAndGlyphs'}, String(t));
    
    
  });
  stainCategories.forEach((c, i) => {
    const cx = x(i);
    const b1 = add(g, 'rect', {x: cx - 89, y: y(stainControl[i]), width: 71, height: y(0) - y(stainControl[i]), fill: '#000'});
    
    
    const e1 = add(g, 'path', {d: `M${cx - 53} ${y(stainControl[i])}V${y(stainControl[i] + stainControlSd[i])}M${cx - 69} ${y(stainControl[i] + stainControlSd[i])}h32`, stroke: '#000', 'stroke-width': 3, fill: 'none'});
    
    
    const b2 = add(g, 'rect', {x: cx + 25, y: y(stainTm[i]) + 2, width: 66, height: y(0) - y(stainTm[i]) - 2, fill: '#a5a5a8', stroke: '#000', 'stroke-width': 5});
    
    
    const band = add(g, 'rect', {x: cx + 23, y: y(stainTm[i]), width: 70, height: 8, fill: '#000'});
    
    
    const e2 = add(g, 'path', {d: `M${cx + 58} ${y(stainTm[i])}V${y(stainTm[i] + stainTmSd[i])}M${cx + 40} ${y(stainTm[i] + stainTmSd[i])}h36`, stroke: '#000', 'stroke-width': 3, fill: 'none'});
    
    
    const tk = add(g, 'line', {x1: cx, x2: cx, y1: 707, y2: 725, stroke: '#000', 'stroke-width': 3});
    
    
    const lab = add(g, 'text', {x: cx + 5, y: 794, 'text-anchor': 'middle', class: 'sb', 'font-size': 52, textLength: i ? 101 : 156, lengthAdjust: 'spacingAndGlyphs'}, c);
    
    
  });
  const ya = add(g, 'line', {x1: 1364, x2: 1364, y1: 212, y2: 708, stroke: '#000', 'stroke-width': 4});
  
  
  const xa = add(g, 'line', {x1: 1344, x2: 1915, y1: 707, y2: 707, stroke: '#000', 'stroke-width': 6});
  
  
})();

// ---------- Panel C ----------
(function () {
  const g = document.getElementById('volcano-chart');
  const x = v => 554 + v * 56.7;
  const y = v => 2369 - v * 146;
  const bg = add(g, 'rect', {x: 180, y: 1680, width: 748, height: 721, fill: '#fff'});
  
  
  volcanoXTicks.forEach(t => {
    const gl = add(g, 'line', {x1: x(t), x2: x(t), y1: 1680, y2: 2401, stroke: '#eee', 'stroke-width': 1.5});
    
    
    const lab = add(g, 'text', {x: x(t), y: 2441, 'text-anchor': 'middle', class: 'ar', 'font-size': 33, style: 'fill:#333', textLength: t < 0 ? 24 : 14, lengthAdjust: 'spacingAndGlyphs'}, String(t));
    
    
  });
  volcanoYTicks.forEach(t => {
    const gl = add(g, 'line', {x1: 180, x2: 928, y1: y(t), y2: y(t), stroke: '#eee', 'stroke-width': 1.5});
    
    
    const lab = add(g, 'text', {x: 168, y: y(t) + 12, 'text-anchor': 'end', class: 'ar', 'font-size': 33, style: 'fill:#333', textLength: 14, lengthAdjust: 'spacingAndGlyphs'}, String(t));
    
    
  });
  nosigPoints.forEach(p => {
    const c = add(g, 'circle', {cx: x(p[0]), cy: y(p[1]), r: 5.5, fill: '#a6a6a6', 'fill-opacity': .75});
    
    
  });
  downPoints.forEach(p => {
    const c = add(g, 'circle', {cx: x(p[0]), cy: y(p[1]), r: 5.5, fill: '#1565c8', 'fill-opacity': .9});
    
    
  });
  upPoints.forEach(p => {
    const c = add(g, 'circle', {cx: x(p[0]), cy: y(p[1]), r: 5.5, fill: '#e8284a', 'fill-opacity': .9});
    
    
  });
  const h = add(g, 'line', {x1: 180, x2: 928, y1: y(1.3), y2: y(1.3), stroke: '#000', 'stroke-width': 2.5, 'stroke-dasharray': '9 6'});
  
  
  [-0.26, 0.26].forEach(v => {
    const l = add(g, 'line', {x1: x(v), x2: x(v), y1: 1680, y2: 2401, stroke: '#000', 'stroke-width': 2.5, 'stroke-dasharray': '9 6'});
    
    
  });
  const frame = add(g, 'rect', {x: 180, y: 1680, width: 748, height: 721, fill: 'none', stroke: '#777', 'stroke-width': 2});
  
  
})();

// ---------- Panel D ----------
(function () {
  const g = document.getElementById('pathway-chart');
  const y = v => 2181 - v * 1.787;
  const cx = i => 1369.5 + i * 76.6;
  pathwayTicks.forEach(t => {
    const tk = add(g, 'line', {x1: 1320, x2: 1325, y1: y(t), y2: y(t), stroke: '#333', 'stroke-width': 2});
    
    
    const s = String(t);
    const lab = add(g, 'text', {x: 1318, y: y(t) + 10, 'text-anchor': 'end', class: 'ar', 'font-size': 28, style: 'fill:#444', textLength: s.length * 10.7, lengthAdjust: 'spacingAndGlyphs'}, s);
    
    
  });
  pathwayValues.forEach((v, i) => {
    const b = add(g, 'rect', {x: cx(i) - 34.5, y: y(v), width: 69, height: y(0) - y(v), fill: '#4aaeff'});
    
    
    const s = String(v);
    const lab = add(g, 'text', {x: cx(i) - 2, y: y(v) - 10, 'text-anchor': 'middle', class: 'db', 'font-size': 21, textLength: s.length * 19.5, lengthAdjust: 'spacingAndGlyphs'}, s);
    
    
  });
  const labels = add(g, 'g', {'clip-path': 'url(#clip-d-labels)'});
  
  
  pathwayLabels.forEach((lines, i) => {
    lines.forEach((line, j) => {
      const bx = lines.length === 1 ? cx(i) + 8.5 : cx(i) - 5 + j * 23;
      const attrs = {transform: `translate(${bx},2214) rotate(-90)`, 'text-anchor': 'end', class: 'ab', 'font-size': 31.5};
      if (i === highlightedPathway) attrs['font-style'] = 'italic';
      const t = add(labels, 'text', attrs, line);
      
      
    });
  });
  const ya = add(g, 'line', {x1: 1325.5, x2: 1325.5, y1: 1729, y2: 2203, stroke: '#222', 'stroke-width': 2.5});
  
  
  const xa = add(g, 'line', {x1: 1325, x2: 2329, y1: 2202, y2: 2202, stroke: '#222', 'stroke-width': 2.5});
  
  
})();

// ---------- Panel E ----------
(function () {
  const g = document.getElementById('amino-chart');
  const y = v => 3190 - v * 359;
  const cx = i => 295 + i * 240.5;
  const labelWidth = name => name.length * 21.5;
  aminoCategories.forEach((c, i) => {
    const b1 = add(g, 'rect', {x: cx(i) - 75, y: y(aminoControl[i]), width: 60, height: y(0) - y(aminoControl[i]), fill: '#808080'});
    
    
    const e1 = add(g, 'path', {d: `M${cx(i) - 45} ${y(aminoControl[i])}V${y(aminoControl[i] + aminoControlSd[i])}M${cx(i) - 59} ${y(aminoControl[i] + aminoControlSd[i])}h28`, stroke: '#808080', 'stroke-width': 2.5, fill: 'none'});
    
    
    const b2 = add(g, 'rect', {x: cx(i) + 16, y: y(aminoTm[i]), width: 60, height: y(0) - y(aminoTm[i]), fill: '#a00000'});
    
    
    const e2 = add(g, 'path', {d: `M${cx(i) + 46} ${y(aminoTm[i])}V${y(aminoTm[i] + aminoTmSd[i])}M${cx(i) + 32} ${y(aminoTm[i] + aminoTmSd[i])}h28`, stroke: '#a00000', 'stroke-width': 2.5, fill: 'none'});
    
    
    const tk = add(g, 'line', {x1: cx(i), x2: cx(i), y1: 3190, y2: 3212, stroke: '#000', 'stroke-width': 4});
    
    
    const lab = add(g, 'text', {x: cx(i), y: 3268, 'text-anchor': 'middle', class: 'sb', 'font-size': 52, textLength: labelWidth(c), lengthAdjust: 'spacingAndGlyphs'}, c);
    
    
  });
  aminoTicks.forEach(t => {
    const tk = add(g, 'line', {x1: 170, x2: 190, y1: y(t), y2: y(t), stroke: '#000', 'stroke-width': 5});
    
    
    const lab = add(g, 'text', {x: 165, y: y(t) + 13, 'text-anchor': 'end', class: 'ab', 'font-size': 37, textLength: 50, lengthAdjust: 'spacingAndGlyphs'}, t.toFixed(1));
    
    
  });
  const ya = add(g, 'line', {x1: 190, x2: 190, y1: 2649, y2: 3192, stroke: '#000', 'stroke-width': 5});
  
  
  const xa = add(g, 'line', {x1: 170, x2: 885, y1: 3190, y2: 3190, stroke: '#000', 'stroke-width': 5});
  
  
})();

// ---------- Panel G ----------
(function () {
  const g = document.getElementById('dot-chart');
  const x = v => 303 + (v - 0.005) * 21400;
  const y = i => 3350 + i * 30.97;
  const color = p => {
    const t = Math.min(p / 0.05, 1);
    return `rgb(${Math.round(255 - 235 * t)},${Math.round(30 * t)},${Math.round(20 + 235 * t)})`;
  };
  const bg = add(g, 'rect', {x: 219, y: 3331, width: 436, height: 841, fill: '#fff'});
  
  
  dotPathways.forEach((name, i) => {
    const gl = add(g, 'line', {x1: 219, x2: 655, y1: y(i), y2: y(i), stroke: '#f1f1f1', 'stroke-width': 1.5});
    
    
    const tk = add(g, 'line', {x1: 216, x2: 219, y1: y(i), y2: y(i), stroke: '#888', 'stroke-width': 1.5});
    
    
    const rx = 53.6 * Math.sqrt(dotGeneRatio[i]);
    const d = add(g, 'ellipse', {cx: x(dotGeneRatio[i]), cy: y(i), rx: rx, ry: rx * 1.38, fill: color(dotPAdjust[i])});
    
    
    const lab = add(g, 'text', {transform: `translate(673,${3352 + i * 32.35}) scale(.85,1)`, class: 'ab', 'font-size': 26, style: 'fill:#111'}, name);
    
    
  });
  dotXTicks.forEach(t => {
    const gl = add(g, 'line', {x1: x(t), x2: x(t), y1: 3331, y2: 4172, stroke: '#f4f4f4', 'stroke-width': 1.5});
    
    
    const lab = add(g, 'text', {x: x(t), y: 4197, 'text-anchor': 'middle', class: 'sr', 'font-size': 20, style: 'fill:#666', textLength: 31, lengthAdjust: 'spacingAndGlyphs'}, t.toFixed(3));
    
    
  });
  const frame = add(g, 'rect', {x: 219, y: 3331, width: 436, height: 841, fill: 'none', stroke: '#222', 'stroke-width': 2.5});
  
  
})();

// ---------- Panel H ----------
(function () {
  const g = document.getElementById('nes-chart');
  const x = v => 1502 + v * 110;
  const y = i => 3343 + i * 29;
  const stops = [[0, 255, 44, 56], [0.1, 230, 20, 120], [0.3, 170, 16, 190], [0.5, 120, 16, 216], [1, 0, 0, 255]];
  const color = p => {
    let k = 0;
    while (k < stops.length - 2 && p > stops[k + 1][0]) k++;
    const a = stops[k], b = stops[k + 1], t = (p - a[0]) / (b[0] - a[0]);
    return `rgb(${Math.round(a[1] + (b[1] - a[1]) * t)},${Math.round(a[2] + (b[2] - a[2]) * t)},${Math.round(a[3] + (b[3] - a[3]) * t)})`;
  };
  const bg = add(g, 'rect', {x: 1292, y: 3320, width: 404, height: 887, fill: '#fff'});
  
  
  nesTicks.forEach(t => {
    const gl = add(g, 'line', {x1: x(t), x2: x(t), y1: 3320, y2: 4207, stroke: '#eee', 'stroke-width': 1.5});
    
    
    const lab = add(g, 'text', {x: x(t), y: 4231, 'text-anchor': 'middle', class: 'sr', 'font-size': 20, style: 'fill:#444'}, String(t));
    
    
  });
  nesPathways.forEach((name, i) => {
    const gl = add(g, 'line', {x1: 1292, x2: 1696, y1: y(i) + 6, y2: y(i) + 6, stroke: '#eee', 'stroke-width': 1.5});
    
    
    const v = nesValues[i];
    const b = add(g, 'rect', {x: Math.min(x(v), x(0)), y: y(i) - 13.5, width: Math.abs(x(v) - x(0)), height: 27, fill: color(nesPValues[i]), stroke: '#fff', 'stroke-width': .6});
    
    
    const lab = add(g, 'text', {transform: `translate(1722,${3343 + i * 29.85}) scale(.87,1)`, class: 'ab', 'font-size': 26, style: 'fill:#111'}, name);
    
    
  });
  const frame = add(g, 'rect', {x: 1292, y: 3320, width: 404, height: 887, fill: 'none', stroke: '#999', 'stroke-width': 2});
  
  
  const box = add(g, 'rect', {x: 1712, y: 3846, width: 277, height: 57, fill: 'none', stroke: '#ee0a0a', 'stroke-width': 4});
  
  
})();
</script>
</body>
</html>
